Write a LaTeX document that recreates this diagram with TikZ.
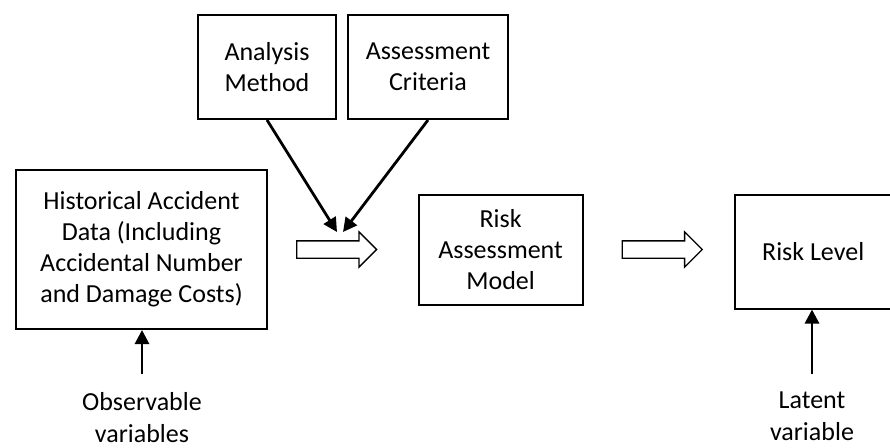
\documentclass[tikz,border=0pt]{standalone}
\usepackage{fontspec}
\setmainfont{Carlito}
\usetikzlibrary{positioning,shapes.arrows,arrows.meta}
\tikzset{
  box/.style={draw, line width=2pt, align=center, inner sep=0pt,
              font=\fontsize{26}{31}\selectfont},
  flow/.style={draw, line width=1.3pt, single arrow, single arrow head extend=9pt,
               inner xsep=0pt, inner ysep=8pt, minimum height=80pt},
  lbl/.style={align=center, inner sep=0pt, font=\fontsize{26}{32}\selectfont},
  feeds/.style={-{Triangle[length=14pt,width=14pt]}, line width=2.8pt},
}

\begin{document}
\begin{tikzpicture}[x=1pt, y=-1pt, node distance=10pt]
\useasboundingbox (0,0) rectangle (890,447);
% inputs on top
\node[box, minimum width=138pt, minimum height=104pt] (am) at (267,67) {Analysis\\Method};
\node[box, minimum width=160pt, minimum height=104pt, right=10pt of am] (ac) {Assessment\\Criteria};
% main row
\node[box, minimum width=251pt, minimum height=159pt] (hist) at (141.5,249.5)
  {Historical Accident\\Data (Including\\Accidental Number\\and Damage Costs)};
\node[flow, right=28pt of hist] (flow1) {};
\node[box, minimum width=164pt, minimum height=110pt, right=40pt of flow1] (ram) {Risk\\Assessment\\Model};
\node[flow, right=38pt of ram] (flow2) {};
\node[box, minimum width=156pt, minimum height=114pt, right=31pt of flow2, yshift=-2pt] (rl) {Risk Level};
% labels below
\node[lbl, anchor=north] (obs) at (142,392) {Observable\\variables};
\node[lbl, anchor=north] (lat) at (812,392) {Latent\\variable};
\coordinate (meet) at (340,232);
\draw[feeds] (am.south) -- ([xshift=-3pt]meet);
\draw[feeds] (ac.south) -- ([xshift=3pt]meet);
\draw[feeds, shorten <=18pt] (obs.north) -- (obs.north |- hist.south);
\draw[feeds, shorten <=18pt] (lat.north) -- (lat.north |- rl.south);
\end{tikzpicture}
\end{document}
